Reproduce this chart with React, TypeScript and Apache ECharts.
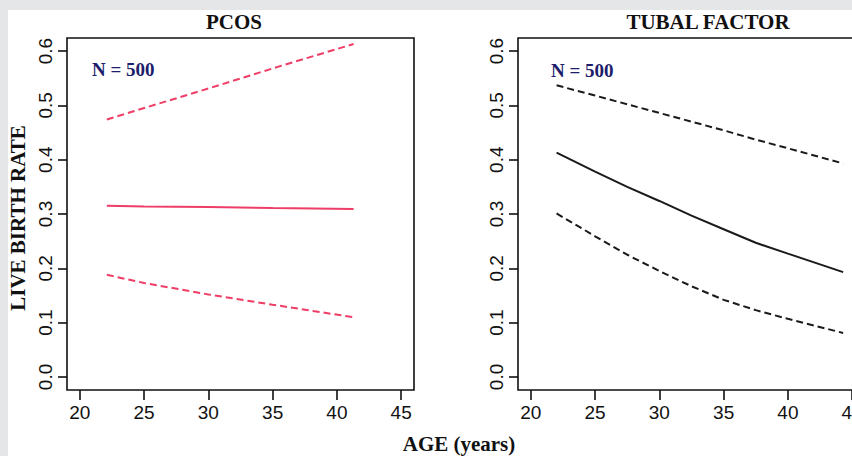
import React, { useEffect, useRef } from "react";
import * as echarts from "echarts";

// ---- data ----
const xTicks = [20, 25, 30, 35, 40, 45];
const yTicks = [0, 0.1, 0.2, 0.3, 0.4, 0.5, 0.6];

const pcosAge = [22.1, 25, 30, 35, 41.3];
const pcosFit = [0.315, 0.314, 0.313, 0.311, 0.309];
const pcosUpper = [0.474, 0.495, 0.531, 0.568, 0.613];
const pcosLower = [0.188, 0.173, 0.152, 0.133, 0.11];

const tubalAge = [22, 25, 27.5, 30, 32.5, 35, 37.5, 40, 44.3];
const tubalFit = [0.413, 0.378, 0.350, 0.324, 0.297, 0.272, 0.247, 0.227, 0.193];
const tubalUpper = [0.537, 0.518, 0.502, 0.486, 0.470, 0.454, 0.437, 0.421, 0.393];
const tubalLower = [0.301, 0.259, 0.225, 0.195, 0.167, 0.142, 0.123, 0.107, 0.081];

const panelTitles = ["PCOS", "TUBAL FACTOR"];
const nLabel = "N = 500";
const yTitle = "LIVE BIRTH RATE";
const xTitle = "AGE (years)";

const RED = "#ee3d66";
const BLACK = "#1a1a1a";
const SANS = "'Liberation Sans', Arial, Helvetica, sans-serif";
const SERIF = "'Liberation Serif', 'Times New Roman', serif";

const zip = (xs: number[], ys: number[]) => xs.map((x, i) => [x, ys[i]]);

export default function App() {
  const ref = useRef<HTMLDivElement>(null);
  useEffect(() => {
    if (!ref.current) return;
    const chart = echarts.init(ref.current, undefined, { renderer: "svg" });

    const grids = [
      { left: 67, top: 38, width: 347, height: 352 },
      { left: 518, top: 38, width: 347, height: 352 },
    ].map((g) => ({
      ...g,
      show: true,
      borderColor: "#111",
      borderWidth: 1.6,
      backgroundColor: "transparent",
      containLabel: false,
      outerBoundsMode: "none",
    }));

    const xAxes = [0, 1].map((i) => ({
      type: "value",
      gridIndex: i,
      min: 19,
      max: 46,
      splitLine: { show: false },
      axisLine: { show: false, onZero: false },
      axisTick: { show: true, customValues: xTicks, length: 10, lineStyle: { color: "#111", width: 1.6 } },
      axisLabel: {
        customValues: xTicks,
        margin: 13,
        color: "#111",
        fontFamily: SANS,
        fontSize: 19,
      },
    }));

    const yAxes = [0, 1].map((i) => ({
      type: "value",
      gridIndex: i,
      min: -0.024,
      max: 0.624,
      splitLine: { show: false },
      axisLine: { show: false, onZero: false },
      axisTick: { show: true, customValues: yTicks, length: 9, lineStyle: { color: "#111", width: 1.6 } },
      axisLabel: {
        customValues: yTicks,
        rotate: 90,
        margin: 12,
        color: "#111",
        fontFamily: SANS,
        fontSize: 19,
        formatter: (v: number) => v.toFixed(1),
      },
    }));

    const line = (idx: number, xs: number[], ys: number[], color: string, dashed: boolean) => ({
      type: "line",
      xAxisIndex: idx,
      yAxisIndex: idx,
      data: zip(xs, ys),
      showSymbol: false,
      symbol: "none",
      smooth: false,
      lineStyle: { color, width: 2, type: dashed ? [7, 4] : "solid" },
      z: 3,
    });

    chart.setOption({
      animation: false,
      backgroundColor: "#ffffff",
      grid: grids,
      xAxis: xAxes,
      yAxis: yAxes,
      series: [
        line(0, pcosAge, pcosFit, RED, false),
        line(0, pcosAge, pcosUpper, RED, true),
        line(0, pcosAge, pcosLower, RED, true),
        line(1, tubalAge, tubalFit, BLACK, false),
        line(1, tubalAge, tubalUpper, BLACK, true),
        line(1, tubalAge, tubalLower, BLACK, true),
      ],
      graphic: [
        { type: "rect", shape: { x: 0, y: 0, width: 852, height: 10 }, style: { fill: "#e5e6e8" }, silent: true },
        { type: "rect", shape: { x: 0, y: 0, width: 8, height: 456 }, style: { fill: "#e5e6e8" }, silent: true },
        {
          type: "text", x: 234, y: 22,
          style: { text: panelTitles[0], font: `bold 21px ${SERIF}`, fill: "#111", textAlign: "center", textVerticalAlign: "middle" },
        },
        {
          type: "text", x: 708, y: 22,
          style: { text: panelTitles[1], font: `bold 21px ${SERIF}`, fill: "#111", textAlign: "center", textVerticalAlign: "middle" },
        },
        {
          type: "text", x: 92, y: 69,
          style: { text: nLabel, font: `bold 19px ${SERIF}`, fill: "#1d1d6b", textAlign: "left", textVerticalAlign: "middle" },
        },
        {
          type: "text", x: 551, y: 70,
          style: { text: nLabel, font: `bold 19px ${SERIF}`, fill: "#1d1d6b", textAlign: "left", textVerticalAlign: "middle" },
        },
        {
          type: "text", x: 18, y: 218, rotation: Math.PI / 2,
          style: { text: yTitle, font: `bold 21px ${SERIF}`, fill: "#111", textAlign: "center", textVerticalAlign: "middle" },
        },
        {
          type: "text", x: 459, y: 444,
          style: { text: xTitle, font: `bold 21px ${SERIF}`, fill: "#111", textAlign: "center", textVerticalAlign: "middle" },
        },
      ],
    });
    return () => chart.dispose();
  }, []);

  return (
    <div style={{ position: "fixed", left: 0, top: 0, width: 852, height: 456, overflow: "hidden", background: "#fff" }}>
      <div ref={ref} style={{ width: 852, height: 456 }} />
    </div>
  );
}
